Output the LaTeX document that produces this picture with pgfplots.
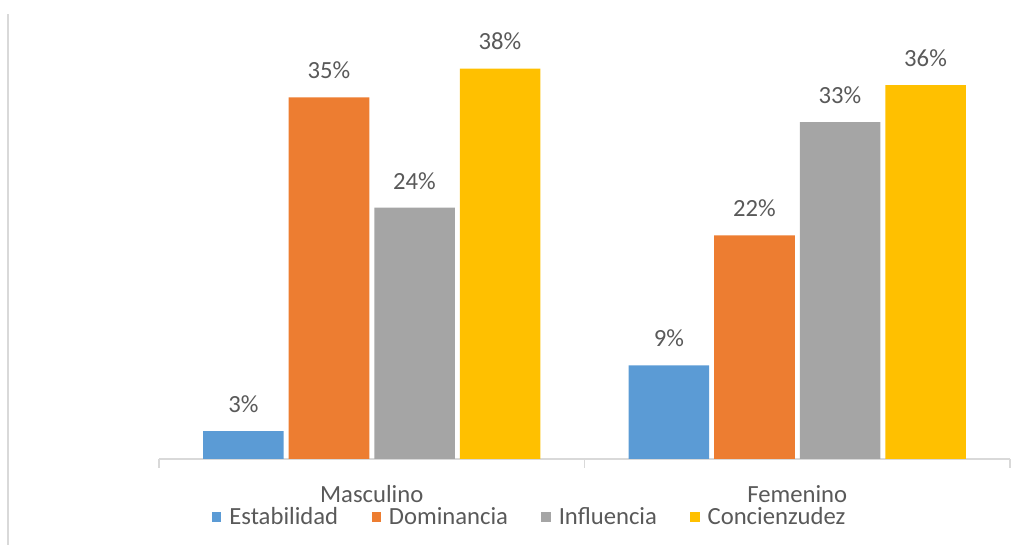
\documentclass[border=0pt]{standalone}
\usepackage{fontspec}
\setmainfont{Carlito}
\usepackage{pgfplots}
\pgfplotsset{compat=1.18}
\definecolor{cEst}{HTML}{5B9BD5}
\definecolor{cDom}{HTML}{ED7D31}
\definecolor{cInf}{HTML}{A5A5A5}
\definecolor{cCon}{HTML}{FFC000}
\definecolor{txt}{HTML}{595959}
\definecolor{axgray}{HTML}{D9D9D9}
\newcommand\fs{\fontsize{18.5}{20}\selectfont}

\begin{document}
\begin{tikzpicture}
\useasboundingbox (0,0) rectangle (771pt,408.75pt);
\draw[axgray, line width=1.5pt] (6pt,0) -- (6pt,398.25pt);
\begin{axis}[
    at={(119.25pt,64.5pt)}, anchor=south west,
    scale only axis,
    width=638.25pt, height=309pt,
    ybar=3.75pt, bar width=60.4pt,
    xmin=-0.5, xmax=1.5, ymin=0, ymax=40,
    axis y line=none,
    axis x line*=bottom,
    x axis line style={-, draw=axgray, line width=1.1pt},
    xtick={0,1},
    xticklabels={Masculino,Femenino},
    xtick style={draw=none},
    extra x ticks={-0.5,0.5,1.5},
    extra x tick labels={},
    extra x tick style={xtick style={draw=axgray, line width=1.1pt}, major tick length=6.75pt, tick align=outside},
    xticklabel style={anchor=base, yshift=-28pt, font=\fs, text=txt},
    ytick=\empty,
    /pgf/number format/assume math mode=true,
    nodes near coords={\pgfmathprintnumber[fixed,precision=0]{\pgfplotspointmeta}\%},
    every node near coord/.append style={anchor=base, yshift=14pt, font=\fs, text=txt},
    legend style={at={(0.436,-0.141)}, anchor=center, legend columns=4, draw=none, fill=none,
        font=\fs, text=txt,
        /tikz/every odd column/.append style={column sep=4pt},
        /tikz/every even column/.append style={column sep=23pt}},
    legend image code/.code={\fill[#1] (0pt,-3.5pt) rectangle (7pt,3.5pt);},
]
\addplot[fill=cEst, draw=none] coordinates {(0,2.7) (1,9.1)};
\addplot[fill=cDom, draw=none] coordinates {(0,35.1) (1,21.7)};
\addplot[fill=cInf, draw=none] coordinates {(0,24.4) (1,32.7)};
\addplot[fill=cCon, draw=none] coordinates {(0,37.9) (1,36.3)};
\legend{Estabilidad, Dominancia, Influencia, Concienzudez}
\end{axis}
\end{tikzpicture}
\end{document}
